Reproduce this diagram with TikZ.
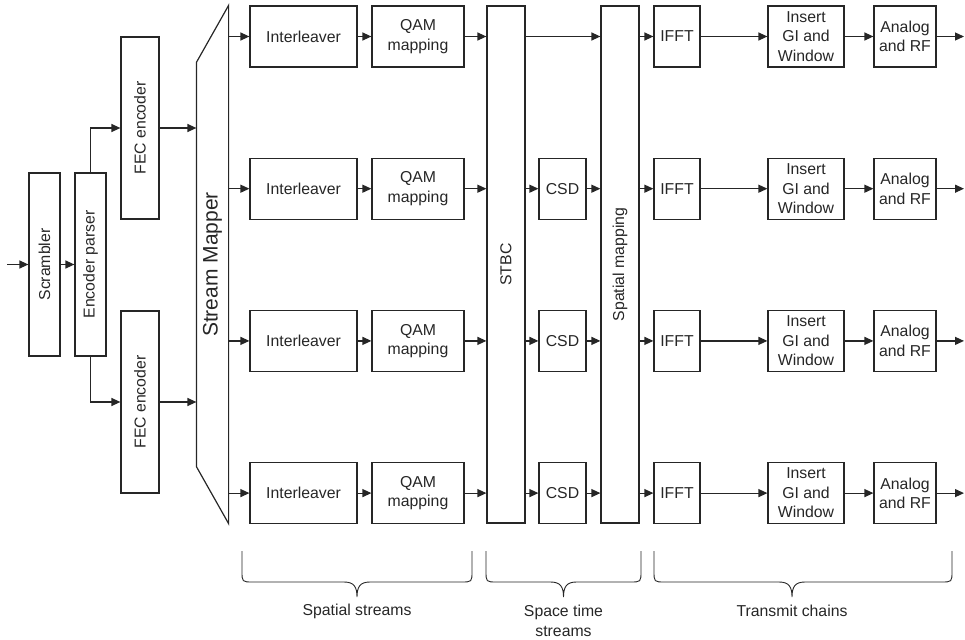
\documentclass[tikz,border=0pt]{standalone}
\usepackage{fontspec}
\setmainfont{Liberation Sans}
\usepackage{graphicx}
\usetikzlibrary{arrows.meta}
\definecolor{ink}{HTML}{262626}
\begin{document}
\begin{tikzpicture}[x=1pt,y=-1pt,
  font=\fontsize{15.8}{19.5}\selectfont,
  color=ink, line width=1.2pt,
  box/.style={draw, rectangle, inner sep=0pt, align=center, line width=1.2pt},
  arr/.style={-{Triangle[length=9pt,width=8pt]}, line width=1.2pt},
  brc/.style={line width=0.9pt},
]
\useasboundingbox (0,0) rectangle (965,639);

% left chain
\coordinate (in) at (7,264.5);
\node[box, minimum width=31pt, minimum height=183pt] (scr) at (44.5,264.5) {\rotatebox{90}{Scrambler}};
\node[box, minimum width=31pt, minimum height=183pt] (ep) at (90.5,264.5) {\rotatebox{90}{Encoder parser}};
\node[box, minimum width=38pt, minimum height=182pt] (fec1) at (140,128) {\rotatebox{90}{FEC encoder}};
\node[box, minimum width=38pt, minimum height=182pt] (fec2) at (140,402) {\rotatebox{90}{FEC encoder}};

% stream mapper
\node[inner sep=0pt, minimum width=31pt, minimum height=517pt] (sm) at (212.5,264.5)
  {\fontsize{21}{25}\selectfont\rotatebox{90}{Stream Mapper}};
\draw (sm.north east) -- (sm.south east) -- ([yshift=57pt]sm.south west)
  -- ([yshift=-57pt]sm.north west) -- cycle;

% STBC and spatial mapping
\node[box, minimum width=38pt, minimum height=517pt] (stbc) at (506,264.5) {\rotatebox{90}{STBC}};
\node[box, minimum width=38pt, minimum height=517pt] (sp) at (620,264.5) {\rotatebox{90}{Spatial mapping}};

\draw[arr] (in) -- (scr);
\draw[arr] (scr) -- (ep);
\draw[arr] (ep.north) |- (fec1.west);
\draw[arr] (ep.south) |- (fec2.west);
\draw[arr] (fec1) -- (fec1 -| sm.west);
\draw[arr] (fec2) -- (fec2 -| sm.west);

\foreach \i/\y in {1/36.5, 2/188.7, 3/340.9, 4/493.1} {
  \node[box, minimum width=107pt, minimum height=61pt] (il\i) at (303.5,\y) {Interleaver};
  \node[box, minimum width=92pt, minimum height=61pt] (qam\i) at (418,\y) {QAM\\mapping};
  \node[box, minimum width=46pt, minimum height=61pt] (ifft\i) at (677,\y) {IFFT};
  \node[box, minimum width=76pt, minimum height=61pt] (gi\i) at (806,\y) {Insert\\GI and\\Window};
  \node[box, minimum width=62pt, minimum height=61pt] (rf\i) at (905,\y) {Analog\\and RF};
  \coordinate (out\i) at (964,\y);
  \draw[arr] (sm.east |- il\i) -- (il\i);
  \draw[arr] (il\i) -- (qam\i);
  \draw[arr] (qam\i) -- (qam\i -| stbc.west);
  \draw[arr] (sp.east |- ifft\i) -- (ifft\i);
  \draw[arr] (ifft\i) -- (gi\i);
  \draw[arr] (gi\i) -- (rf\i);
  \draw[arr] (rf\i) -- (out\i);
}
\draw[arr] (stbc.east |- ifft1) -- (ifft1 -| sp.west);
\foreach \i/\y in {2/188.7, 3/340.9, 4/493.1} {
  \node[box, minimum width=47pt, minimum height=61pt] (csd\i) at (562.5,\y) {CSD};
  \draw[arr] (stbc.east |- csd\i) -- (csd\i);
  \draw[arr] (csd\i) -- (csd\i -| sp.west);
}

% braces
\foreach \a/\m/\b in {242/357/472, 486/563.5/641, 654/792/952} {
  \draw[brc] (\a,551) -- (\a,571) .. controls (\a,582) .. (\a+11,582)
    -- (\m-13,582) .. controls (\m-3,582) and (\m,587) .. (\m,597)
    .. controls (\m,587) and (\m+3,582) .. (\m+13,582)
    -- (\b-11,582) .. controls (\b,582) .. (\b,571) -- (\b,551);
}
\node (lb1) at (357,611) {Spatial streams};
\node[align=center] (lb2) at (563.5,621) {Space time\\streams};
\node (lb3) at (792,611) {Transmit chains};
\end{tikzpicture}
\end{document}
